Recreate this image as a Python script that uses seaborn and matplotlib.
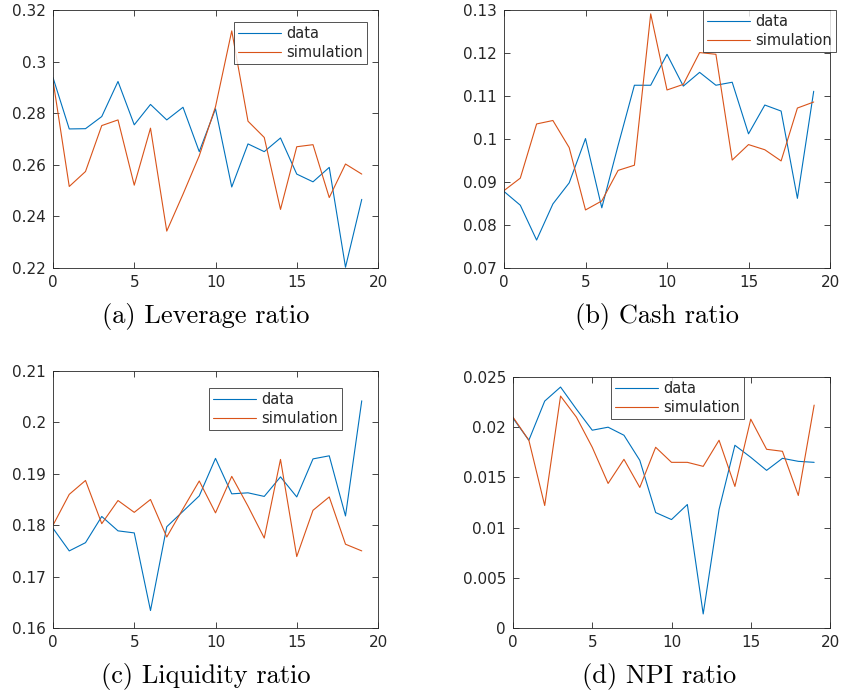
import numpy as np
import pandas as pd
import matplotlib
matplotlib.use("Agg")
import matplotlib.pyplot as plt
import seaborn as sns
from matplotlib.ticker import FuncFormatter

# ---------------- data ----------------
x = list(range(20))

lev_data = [0.2938, 0.2739, 0.2740, 0.2787, 0.2923, 0.2755, 0.2834, 0.2774, 0.2823, 0.2651,
            0.2817, 0.2514, 0.2681, 0.2651, 0.2704, 0.2564, 0.2534, 0.2590, 0.2203, 0.2466]
lev_sim = [0.2927, 0.2516, 0.2574, 0.2752, 0.2774, 0.2521, 0.2742, 0.2343, 0.2486, 0.2635,
           0.2825, 0.3119, 0.2769, 0.2706, 0.2427, 0.2670, 0.2678, 0.2473, 0.2603, 0.2564]

cash_data = [0.0878, 0.0846, 0.0765, 0.0849, 0.0898, 0.1001, 0.0840, 0.0985, 0.1125, 0.1125,
             0.1197, 0.1123, 0.1155, 0.1125, 0.1132, 0.1012, 0.1079, 0.1065, 0.0862, 0.1111]
cash_sim = [0.0880, 0.0909, 0.1035, 0.1043, 0.0980, 0.0835, 0.0856, 0.0927, 0.0939, 0.1291,
            0.1114, 0.1127, 0.1201, 0.1197, 0.0951, 0.0987, 0.0975, 0.0949, 0.1072, 0.1086]

liq_data = [0.1794, 0.1750, 0.1766, 0.1817, 0.1789, 0.1785, 0.1634, 0.1797, 0.1827, 0.1857,
            0.1930, 0.1861, 0.1863, 0.1856, 0.1894, 0.1855, 0.1929, 0.1935, 0.1818, 0.2042]
liq_sim = [0.1800, 0.1860, 0.1887, 0.1803, 0.1848, 0.1825, 0.1850, 0.1777, 0.1832, 0.1886,
           0.1824, 0.1895, 0.1837, 0.1775, 0.1928, 0.1739, 0.1829, 0.1855, 0.1763, 0.1750]

npi_data = [0.0209, 0.0187, 0.0226, 0.0240, 0.0218, 0.0197, 0.0200, 0.0192, 0.0167, 0.0115,
            0.0108, 0.0123, 0.0014, 0.0118, 0.0182, 0.0170, 0.0157, 0.0169, 0.0166, 0.0165]
npi_sim = [0.0210, 0.0187, 0.0122, 0.0231, 0.0210, 0.0180, 0.0144, 0.0168, 0.0140, 0.0180,
           0.0165, 0.0165, 0.0161, 0.0187, 0.0141, 0.0208, 0.0178, 0.0176, 0.0132, 0.0222]

captions = ["(a) Leverage ratio", "(b) Cash ratio", "(c) Liquidity ratio", "(d) NPI ratio"]
series_names = ["data", "simulation"]
ylims = [(0.22, 0.32), (0.07, 0.13), (0.16, 0.21), (0.0, 0.025)]
yticks = [[0.22, 0.24, 0.26, 0.28, 0.30, 0.32],
          [0.07, 0.08, 0.09, 0.10, 0.11, 0.12, 0.13],
          [0.16, 0.17, 0.18, 0.19, 0.20, 0.21],
          [0.0, 0.005, 0.010, 0.015, 0.020, 0.025]]
xticks = [0, 5, 10, 15, 20]

# ---------------- style ----------------
sns.set_theme(style="white")
plt.rcParams['font.family'] = ['DejaVu Sans']
AX_COL = "#262626"
palette = {"data": "#0072BD", "simulation": "#D95319"}

W, H = 842, 695
fig = plt.figure(figsize=(W / 100, H / 100), dpi=100)

def frac(l, t, r, b):
    return [l / W, 1 - b / H, (r - l) / W, (b - t) / H]

axes_px = [(53, 10, 378, 268), (504, 10, 830, 268), (53, 371, 378, 628), (513, 377, 830, 628)]
legend_px = [(367, 22), (836, 10), (342, 388), (744, 377)]
caption_px = [(206, 317), (657, 317), (206, 677), (659, 677)]

panels = [(lev_data, lev_sim), (cash_data, cash_sim), (liq_data, liq_sim), (npi_data, npi_sim)]

fmt = FuncFormatter(lambda v, p: ("%g" % round(v, 6)))

for i, (d, s) in enumerate(panels):
    ax = fig.add_axes(frac(*axes_px[i]))
    df = pd.DataFrame({"x": x * 2, "y": d + s,
                       "series": [series_names[0]] * len(d) + [series_names[1]] * len(s)})
    sns.lineplot(data=df, x="x", y="y", hue="series", palette=palette, ax=ax,
                 linewidth=0.8, legend=False)
    ax.set_xlim(0, 20)
    ax.set_ylim(*ylims[i])
    ax.set_xticks(xticks)
    ax.set_yticks(yticks[i])
    ax.yaxis.set_major_formatter(fmt)
    ax.set_xlabel("")
    ax.set_ylabel("")
    for sp in ax.spines.values():
        sp.set_visible(True)
        sp.set_color(AX_COL)
        sp.set_linewidth(0.6)
    ax.tick_params(direction="in", length=4, width=0.6, color=AX_COL,
                   labelcolor=AX_COL, labelsize=11, top=True, right=True,
                   left=True, bottom=True, pad=5)
    handles = ax.get_lines()[:2]
    lx, ly = legend_px[i]
    leg = ax.legend(handles, series_names, loc="upper right",
                    bbox_to_anchor=(lx / W, 1 - ly / H), bbox_transform=fig.transFigure,
                    borderaxespad=0, frameon=True, fancybox=False, fontsize=10.5,
                    handlelength=2.9, handletextpad=0.35, labelspacing=0.25,
                    borderpad=0.3)
    leg.get_frame().set_edgecolor(AX_COL)
    leg.get_frame().set_linewidth(0.7)
    for t in leg.get_texts():
        t.set_color(AX_COL)
    cx, cy = caption_px[i]
    fig.text(cx / W, 1 - cy / H, captions[i], ha="center", va="center",
             fontsize=19, family=["cmr10", "DejaVu Serif"], color="black")

fig.savefig("out.png", dpi=100)
